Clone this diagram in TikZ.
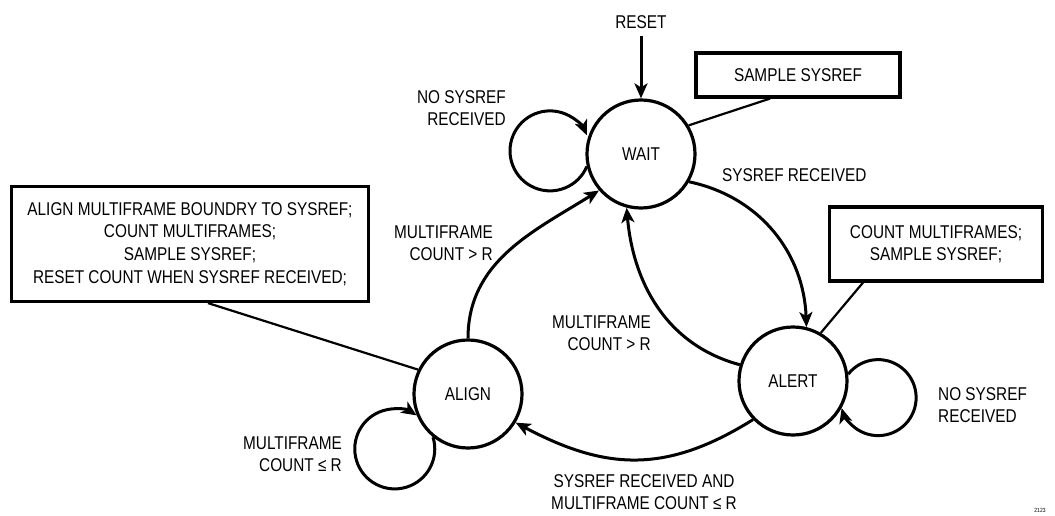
\documentclass[tikz,border=0pt]{standalone}
\usepackage{fontspec}
\setmainfont{Liberation Sans}[FakeStretch=0.83]
\usetikzlibrary{arrows.meta, positioning}

\begin{document}
\begin{tikzpicture}[
    x=1pt, y=1pt,
    font=\fontsize{18.5}{22}\selectfont,
    statecircle/.style={
        circle,
        draw,
        line width=3.2pt,
        minimum size=108pt,
        inner sep=0pt
    },
    notebox/.style={
        rectangle,
        draw,
        line width=3.2pt,
        align=center,
        inner sep=0pt
    },
    cond/.style={inner sep=0pt},
    arrow/.style={-{Stealth[length=15pt, width=13pt, inset=4pt]}, line width=3pt},
    noteline/.style={line width=2.2pt}
]

\useasboundingbox (0,0) rectangle (1055,-516);

% states
\node[statecircle] (wait) at (641,-154) {WAIT};
\node[statecircle] (alert) at (793,-381) {ALERT};
\node[statecircle] (align) at (468,-394) {ALIGN};

% notes
\node[notebox, minimum width=204pt, minimum height=44pt] (samplebox) at (798,-75) {SAMPLE SYSREF};
\node[notebox, minimum width=213pt, minimum height=74pt] (countbox) at (936,-244) {
    COUNT MULTIFRAMES;\\
    SAMPLE SYSREF;
};
\node[notebox, minimum width=357pt, minimum height=115pt, font=\fontsize{18.5}{22.7}\selectfont] (alignbox) at (190,-244) {
    ALIGN MULTIFRAME BOUNDRY TO SYSREF;\\
    COUNT MULTIFRAMES;\\
    SAMPLE SYSREF;\\
    RESET COUNT WHEN SYSREF RECEIVED;
};

\draw[noteline] (wait.31) -- ([xshift=-28pt]samplebox.south);
\draw[noteline] (alert.60) -- ([xshift=-73pt]countbox.south);
\draw[noteline] (align.154) -- ([xshift=18pt]alignbox.south);

% reset
\node[cond] (reset) at (641,-22) {RESET};
\draw[arrow] ([yshift=-7pt]reset.south) -- (wait.north);

% transitions
\draw[arrow] (wait.-30) to[out=-12, in=92] (alert.76);
\draw[arrow] (alert.163) to[out=165, in=-85] (wait.255);
\draw[arrow] (align.90) to[out=90, in=212] (wait.221);
\draw[arrow] (alert.224) to[out=212, in=-28, looseness=1.1] (align.-31);

% self loops
\draw[arrow] (wait.193) arc[start angle=-23, end angle=-337, radius=40];
\draw[arrow] (alert.7) arc[start angle=142, end angle=-164, radius=38];
\draw[arrow] (align.231) arc[start angle=17, end angle=-303, radius=40];

% conditions
\node[cond, align=right, anchor=east] (waitloop) at (506,-108) {NO SYSREF\\RECEIVED};
\node[cond, anchor=west] (sysrefrx) at (722,-175) {SYSREF RECEIVED};
\node[cond, align=right, anchor=east] (alignup) at (493,-243) {MULTIFRAME\\COUNT > R};
\node[cond, align=right, anchor=east] (alertup) at (651,-333) {MULTIFRAME\\COUNT > R};
\node[cond, align=left, anchor=west] (alertloop) at (938,-405) {NO SYSREF\\RECEIVED};
\node[cond, align=right, anchor=east] (alignloop) at (342,-454) {MULTIFRAME\\COUNT ≤ R};
\node[cond, align=center] (alertdown) at (644,-492) {SYSREF RECEIVED AND\\MULTIFRAME COUNT ≤ R};

\node[cond, font=\fontsize{6}{7}\selectfont, anchor=north] (figcode) at (1040,-508) {2123};

\end{tikzpicture}
\end{document}
